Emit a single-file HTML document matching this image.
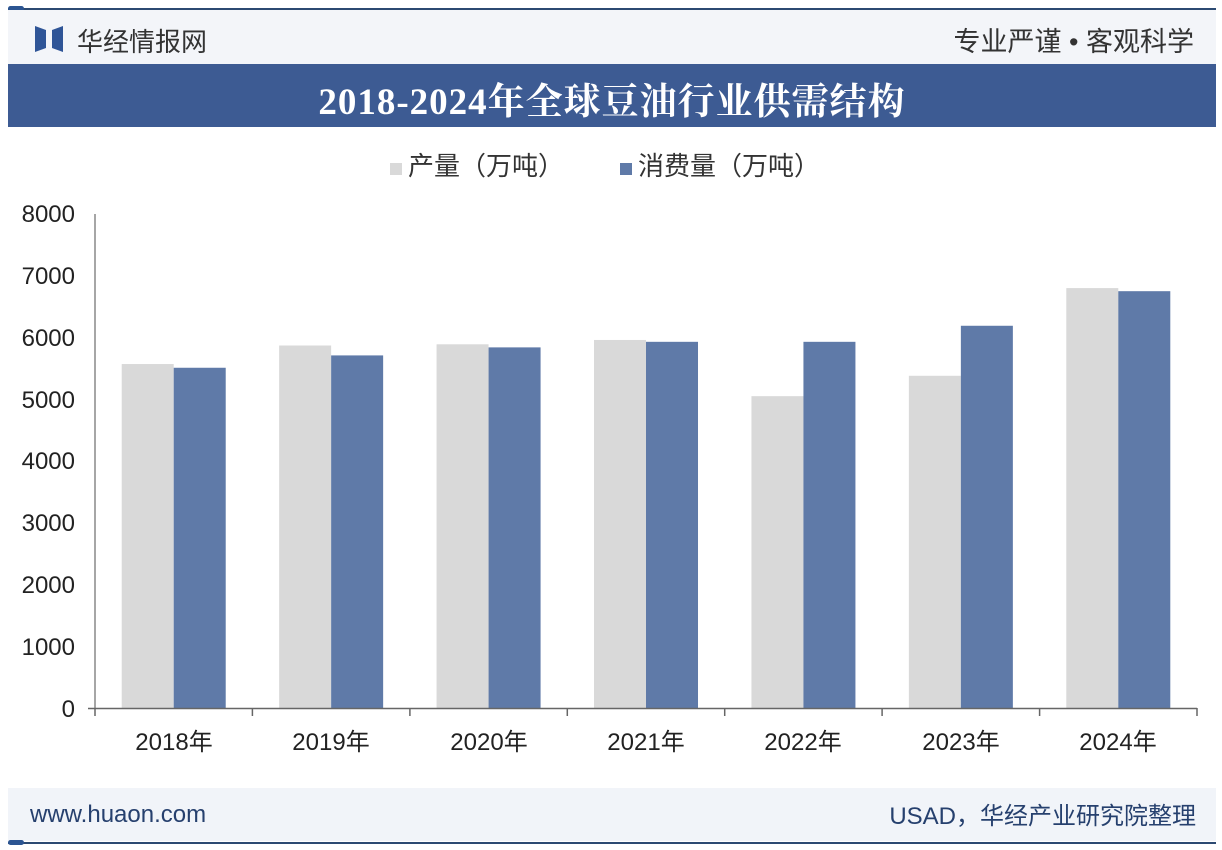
<!DOCTYPE html>
<html><head><meta charset="utf-8"><style>
body{margin:0;width:1222px;height:850px;background:#fff;font-family:"Liberation Sans","Noto Sans CJK SC",sans-serif;position:relative;overflow:hidden}
.abs{position:absolute}
</style></head><body>
<div class="abs" style="left:8px;top:8px;width:1208px;height:2px;background:#2c4a72"></div>
<div class="abs" style="left:8px;top:6px;width:16px;height:5px;border-radius:3px;background:#2c5592"></div>
<div class="abs" style="left:8px;top:10px;width:1208px;height:54px;background:#f3f5f9"></div>
<svg class="abs" style="left:35px;top:26px" width="28" height="26"><polygon points="0,0 11,4 11,22 0,26" fill="#2f5597"/><polygon points="28,0 17,4 17,22 28,26" fill="#2f5597"/></svg>
<div class="abs" style="left:77px;top:22px;font-size:26px;color:#333">华经情报网</div>
<div class="abs" style="right:28px;top:20px;font-size:27px;color:#333">专业严谨 • 客观科学</div>
<div class="abs" style="left:8px;top:64px;width:1208px;height:63px;background:#3d5b93"></div>
<div class="abs" style="left:8px;top:71px;width:1208px;text-align:center;font-family:'Liberation Serif','Noto Serif CJK SC',serif;font-weight:bold;font-size:37px;letter-spacing:1px;color:#fff">2018-2024年全球豆油行业供需结构</div>
<div class="abs" style="left:390px;top:146px;font-size:26px;color:#333"><span style="display:inline-block;width:12px;height:12px;background:#d9d9d9;margin-right:6px"></span>产量（万吨）</div>
<div class="abs" style="left:620px;top:146px;font-size:26px;color:#333"><span style="display:inline-block;width:12px;height:12px;background:#5f7aa8;margin-right:6px"></span>消费量（万吨）</div>
<svg class="abs" style="left:0;top:0" width="1222" height="850">
<g font-family="Liberation Sans" font-size="24" fill="#222" text-anchor="end">
<text x="75" y="222">8000</text><text x="75" y="284">7000</text><text x="75" y="346">6000</text><text x="75" y="408">5000</text><text x="75" y="469">4000</text><text x="75" y="531">3000</text><text x="75" y="593">2000</text><text x="75" y="655">1000</text><text x="75" y="717">0</text>
</g>
<line x1="95" y1="214" x2="95" y2="708" stroke="#888" stroke-width="1.5"/>
<g id="bars"></g>
<line x1="88" y1="708.5" x2="1197" y2="708.5" stroke="#666" stroke-width="1.5"/>
<g stroke="#666" stroke-width="1.5">
<line x1="95" y1="708" x2="95" y2="716"/><line x1="252.4" y1="708" x2="252.4" y2="716"/><line x1="409.9" y1="708" x2="409.9" y2="716"/><line x1="567.3" y1="708" x2="567.3" y2="716"/><line x1="724.7" y1="708" x2="724.7" y2="716"/><line x1="882.1" y1="708" x2="882.1" y2="716"/><line x1="1039.6" y1="708" x2="1039.6" y2="716"/><line x1="1197" y1="708" x2="1197" y2="716"/>
</g>
<g font-family="Liberation Sans,Noto Sans CJK SC,sans-serif" font-size="24" fill="#222" text-anchor="middle">
<text x="174" y="750">2018年</text><text x="331" y="750">2019年</text><text x="489" y="750">2020年</text><text x="646" y="750">2021年</text><text x="803" y="750">2022年</text><text x="961" y="750">2023年</text><text x="1118" y="750">2024年</text>
</g>
</svg>
<div class="abs" style="left:8px;top:788px;width:1208px;height:53px;background:#f1f4f9"></div>
<div class="abs" style="left:30px;top:801px;font-size:24px;color:#26406e">www.huaon.com</div>
<div class="abs" style="right:26px;top:796px;font-size:24px;color:#26406e">USAD，华经产业研究院整理</div>
<div class="abs" style="left:8px;top:842px;width:1208px;height:2px;background:#2c4a72"></div>
<div class="abs" style="left:8px;top:840px;width:16px;height:5px;border-radius:3px;background:#2c5592"></div>
<script>
var g=[5570,5870,5890,5960,5050,5380,6800],b=[5510,5710,5840,5930,5930,6190,6750],s='';
for(var i=0;i<7;i++){var c=95+157.43*(i+0.5);
var hg=g[i]*0.06175,hb=b[i]*0.06175;
s+='<rect x="'+(c-52)+'" y="'+(708-hg)+'" width="52" height="'+hg+'" fill="#d9d9d9"/>';
s+='<rect x="'+c+'" y="'+(708-hb)+'" width="52" height="'+hb+'" fill="#5f7aa8"/>';}
document.getElementById('bars').innerHTML=s;
</script>
</body></html>
